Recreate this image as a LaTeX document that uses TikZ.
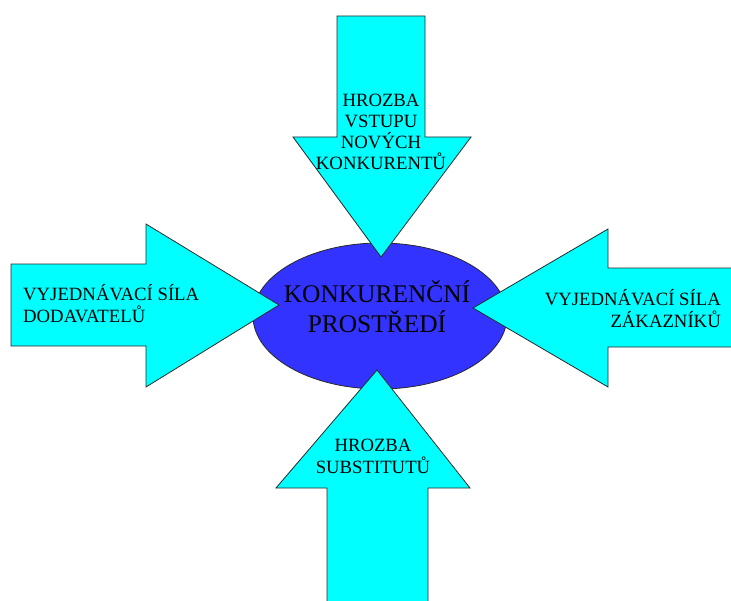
\documentclass[tikz,border=0pt]{standalone}
\usepackage{fontspec}
\setmainfont{Liberation Serif}
\usetikzlibrary{shapes.geometric}
\definecolor{arrowcyan}{RGB}{0,255,255}
\definecolor{ellblue}{RGB}{51,51,255}
\definecolor{edgegray}{RGB}{40,40,40}
\tikzset{
  arrowshape/.style={fill=arrowcyan, draw=edgegray, line width=0.8bp, line join=miter},
  smalllabel/.style={inner sep=0pt, font=\fontsize{18.8}{21.3}\selectfont, text=black},
  biglabel/.style={inner sep=0pt, font=\fontsize{25.5}{30}\selectfont, text=black},
}
\begin{document}
\begin{tikzpicture}[x=1bp,y=-1bp]
\useasboundingbox (0,0) rectangle (731,601);
\begin{scope}
\clip (0,0) rectangle (731,601);
% central ellipse
\node[ellipse, draw=edgegray, fill=ellblue, line width=0.8bp, minimum width=254bp, minimum height=146bp, inner sep=0pt] (env) at (380,316) {};
% top arrow
\draw[arrowshape] (337,16) -- (425,16) -- (425,137) -- (471,137) -- (381,257) -- (293,137) -- (337,137) -- cycle;
% left arrow
\draw[arrowshape] (11,264) -- (146,264) -- (146,224) -- (279,305) -- (146,387) -- (146,346) -- (11,346) -- cycle;
% right arrow
\draw[arrowshape] (740,268) -- (608,268) -- (608,229) -- (473,308) -- (608,387) -- (608,347) -- (740,347) -- cycle;
% bottom arrow
\draw[arrowshape] (377,370) -- (470,488) -- (428,488) -- (428,612) -- (327,612) -- (327,488) -- (276,488) -- cycle;
\end{scope}
% labels (base anchor = baseline of last line)
\node[biglabel, align=center, anchor=base] (envtext) at (377,332) {KONKURENČNÍ\\PROSTŘEDÍ};
\node[smalllabel, align=center, anchor=base] (toptext) at (381,170) {HROZBA\\VSTUPU\\NOVÝCH\\KONKURENTŮ};
\node[smalllabel, align=left, anchor=base west] (lefttext) at (23,322) {VYJEDNÁVACÍ SÍLA\\DODAVATELŮ};
\node[smalllabel, align=right, anchor=base east] (righttext) at (721,327) {VYJEDNÁVACÍ SÍLA\\ZÁKAZNÍKŮ};
\node[smalllabel, align=center, anchor=base] (bottomtext) at (373,473) {HROZBA\\SUBSTITUTŮ};
\end{tikzpicture}
\end{document}
